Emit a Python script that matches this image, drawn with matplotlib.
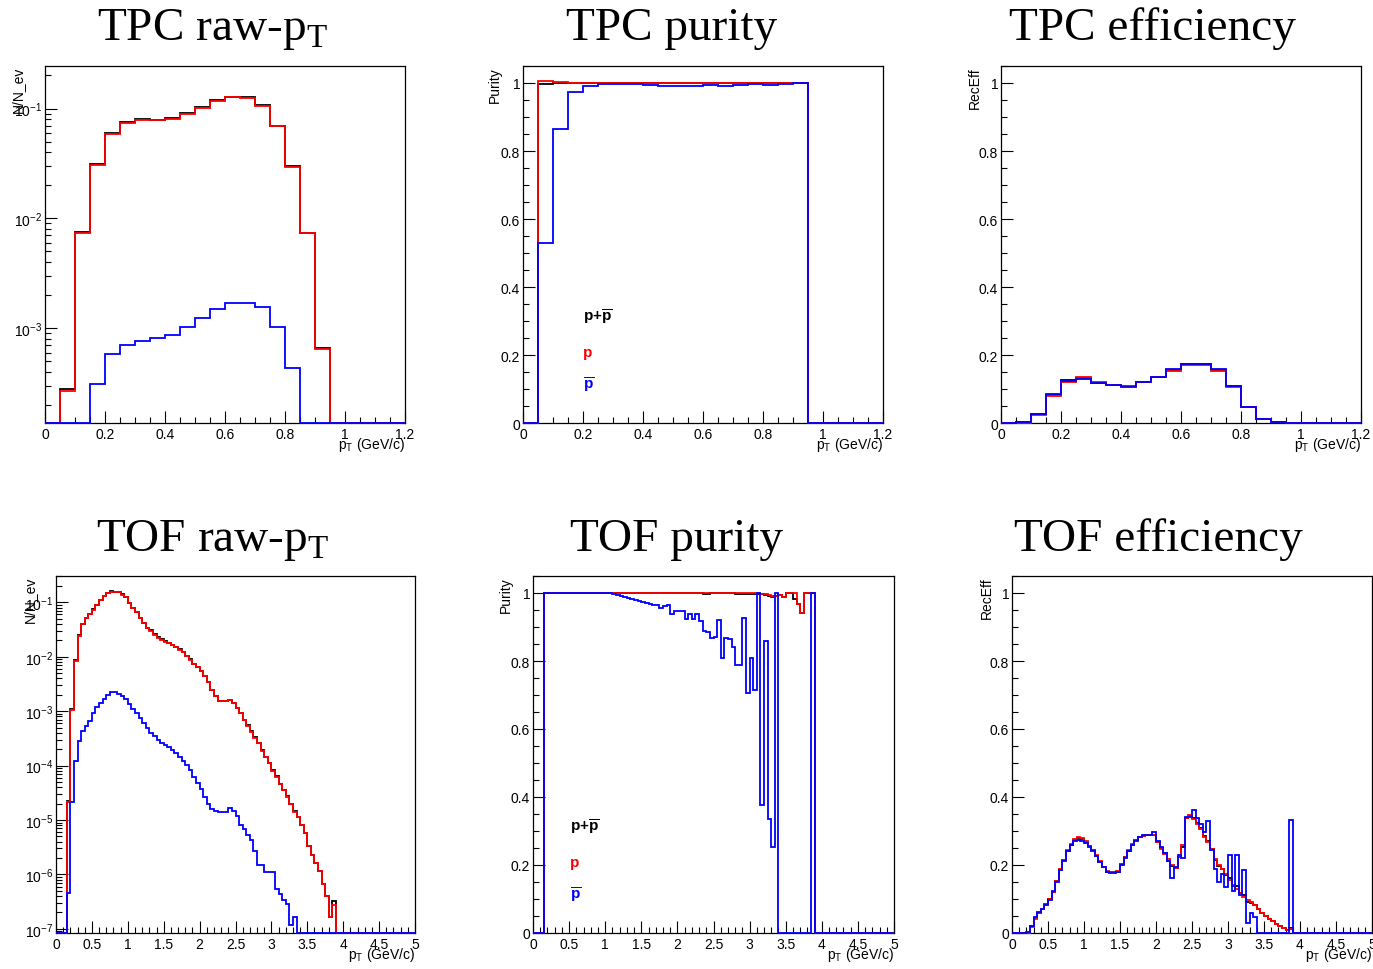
import numpy as np
import matplotlib
matplotlib.use('Agg')
import matplotlib.pyplot as plt
from matplotlib.ticker import MultipleLocator, LogLocator, FuncFormatter, NullFormatter

plt.rcParams['font.family'] = ['Liberation Sans', 'DejaVu Sans']
plt.rcParams['mathtext.fontset'] = 'custom'
plt.rcParams['mathtext.rm'] = 'Liberation Sans'
plt.rcParams['mathtext.bf'] = 'Liberation Sans:bold'
plt.rcParams['mathtext.it'] = 'Liberation Sans:italic'
plt.rcParams['mathtext.sf'] = 'Liberation Serif'

# binning: 0.05 GeV/c bins
tpc_edges = np.linspace(0, 1.2, 25)
tof_edges = np.linspace(0, 5, 101)

# ---- TPC raw pT (N/N_ev) ----
tpc_raw_all = [0, 2.8e-4, 7.45e-3, 0.0311, 0.0593, 0.0752, 0.0796, 0.0793, 0.0819, 0.0904,
               0.1027, 0.119, 0.1285, 0.1267, 0.1073, 0.0700, 0.0298, 7.4e-3, 6.6e-4,
               0, 0, 0, 0, 0]
tpc_raw_p = [0, 2.70e-4, 7.35e-3, 0.0308, 0.0587, 0.0745, 0.0788, 0.0785, 0.0810, 0.0894,
             0.1015, 0.1175, 0.1268, 0.1250, 0.1057, 0.0690, 0.0294, 7.4e-3, 6.49e-4,
             0, 0, 0, 0, 0]
tpc_raw_pbar = [0, 0, 0, 3.1e-4, 5.8e-4, 7.1e-4, 7.66e-4, 8.1e-4, 8.63e-4, 1.035e-3,
                1.24e-3, 1.51e-3, 1.70e-3, 1.70e-3, 1.55e-3, 1.035e-3, 4.35e-4,
                0, 0, 0, 0, 0, 0, 0]

# ---- TPC purity ----
tpc_pur_all = [0, 0.997, 1.0, 1.0, 1.0, 1.0, 1.0, 1.0, 1.0, 1.0, 1.0, 1.0, 1.0, 1.0, 1.0,
               1.0, 1.0, 1.0, 1.0, 0, 0, 0, 0, 0]
tpc_pur_p = [0, 1.005, 1.002, 1.0, 1.0, 1.0, 1.0, 1.0, 1.0, 1.0, 1.0, 1.0, 1.0, 1.0, 1.0,
             1.0, 1.0, 1.0, 1.0, 0, 0, 0, 0, 0]
tpc_pur_pbar = [0, 0.528, 0.864, 0.975, 0.992, 0.997, 0.997, 0.997, 0.995, 0.990, 0.990,
                0.990, 0.993, 0.990, 0.993, 0.996, 0.993, 0.997, 1.0, 0, 0, 0, 0, 0]

# ---- TPC efficiency ----
tpc_eff_all = [0, 0.002, 0.026, 0.082, 0.126, 0.131, 0.119, 0.112, 0.109, 0.120, 0.135,
               0.156, 0.173, 0.173, 0.156, 0.108, 0.048, 0.012, 0.002, 0, 0, 0, 0, 0]
tpc_eff_p = [0, 0.001, 0.024, 0.078, 0.122, 0.135, 0.122, 0.113, 0.110, 0.120, 0.135,
             0.152, 0.171, 0.171, 0.152, 0.105, 0.048, 0.012, 0.002, 0, 0, 0, 0, 0]
tpc_eff_pbar = [0, 0.002, 0.027, 0.084, 0.125, 0.128, 0.117, 0.111, 0.107, 0.120, 0.135,
                0.159, 0.174, 0.174, 0.159, 0.110, 0.048, 0.012, 0.002, 0, 0, 0, 0, 0]

# ---- TOF raw pT (N/N_ev) ----
tof_raw_all = [0, 0, 0, 2.2e-5, 1.08e-3, 8.55e-3, 0.0247, 0.0404, 0.0525, 0.0617,
               0.0742, 0.0905, 0.1105, 0.131, 0.151, 0.158, 0.157, 0.156, 0.141, 0.127,
               0.0986, 0.0798, 0.0673, 0.0522, 0.0423, 0.0342, 0.0305, 0.0258, 0.0226, 0.0209,
               0.0191, 0.0178, 0.0166, 0.0153, 0.0136, 0.0121, 0.0105, 8.9e-3, 7.5e-3, 6.5e-3,
               5.56e-3, 4.37e-3, 3.39e-3, 2.49e-3, 1.87e-3, 1.56e-3, 1.52e-3, 1.52e-3, 1.60e-3, 1.44e-3,
               1.14e-3, 9.25e-4, 6.97e-4, 5.49e-4, 4.26e-4, 3.35e-4, 2.6e-4, 1.9e-4, 1.43e-4, 1.11e-4,
               8.2e-5, 6.33e-5, 4.64e-5, 3.6e-5, 2.72e-5, 1.99e-5, 1.44e-5, 1.12e-5, 8.1e-6, 5.69e-6,
               3.32e-6, 2.27e-6, 1.65e-6, 1.17e-6, 6.8e-7, 3.99e-7, 1.62e-7, 3.27e-7] + [0] * 22
tof_raw_p = [0, 0, 0, 2.17e-5, 1.06e-3, 8.43e-3, 0.0244, 0.0399, 0.0515, 0.061,
             0.0733, 0.0893, 0.109, 0.129, 0.148, 0.155, 0.155, 0.153, 0.138, 0.125,
             0.0972, 0.0787, 0.0664, 0.0515, 0.0417, 0.0337, 0.0301, 0.0254, 0.0221, 0.0206,
             0.0189, 0.0176, 0.0164, 0.0151, 0.01346, 0.01202, 0.01043, 8.8e-3, 7.43e-3, 6.45e-3,
             5.52e-3, 4.34e-3, 3.37e-3, 2.47e-3, 1.86e-3, 1.55e-3, 1.51e-3, 1.51e-3, 1.57e-3, 1.40e-3,
             1.135e-3, 9.18e-4, 6.92e-4, 5.44e-4, 4.22e-4, 3.28e-4, 2.58e-4, 1.89e-4, 1.42e-4, 1.10e-4,
             8.1e-5, 6.28e-5, 4.6e-5, 3.57e-5, 2.69e-5, 1.97e-5, 1.42e-5, 1.12e-5, 8.1e-6, 5.69e-6,
             3.32e-6, 2.27e-6, 1.59e-6, 1.17e-6, 6.8e-7, 3.99e-7, 1.62e-7, 2.8e-7] + [0] * 22
tof_raw_pbar = [0, 0, 0, 4.47e-7, 2.17e-5, 1.22e-4, 2.88e-4, 4.35e-4, 5.44e-4, 6.73e-4,
                9.18e-4, 1.17e-3, 1.44e-3, 1.69e-3, 2.0e-3, 2.21e-3, 2.21e-3, 2.09e-3, 1.91e-3, 1.66e-3,
                1.35e-3, 1.10e-3, 9.2e-4, 7.43e-4, 6.0e-4, 4.86e-4, 4.05e-4, 3.51e-4, 2.96e-4, 2.65e-4,
                2.40e-4, 2.17e-4, 1.94e-4, 1.69e-4, 1.46e-4, 1.22e-4, 1.03e-4, 8.3e-5, 6.28e-5, 4.87e-5,
                3.66e-5, 2.69e-5, 1.94e-5, 1.59e-5, 1.46e-5, 1.42e-5, 1.42e-5, 1.42e-5, 1.69e-5, 1.46e-5,
                1.19e-5, 8.1e-6, 6.73e-6, 5.3e-6, 4.28e-6, 2.73e-6, 1.49e-6, 1.49e-6, 1.09e-6, 1.09e-6,
                1.09e-6, 5.5e-7, 4.34e-7, 3.37e-7, 2.81e-7, 1.2e-7, 1.62e-7] + [0] * 33

# ---- TOF purity ----
tof_pur_all = ([0, 0, 0] + [1.0] * 44 +
               [0.998, 0.998, 1.0, 0.999, 0.999, 0.999, 0.999, 0.999, 0.999, 0.998,
                0.998, 0.997, 0.997, 0.997, 0.997, 0.997, 0.996, 0.994, 0.990, 0.988,
                0.991, 0.993, 0.987, 1.0, 1.0, 0.983, 0.968, 0.940, 1.0, 1.0, 1.0] + [0] * 22)
tof_pur_p = ([0, 0, 0] + [1.0] * 60 +
             [0.997, 0.997, 0.994, 0.990, 0.992, 0.993, 0.988, 1.0, 1.0, 1.0,
              0.968, 0.940, 1.0, 1.0, 1.0] + [0] * 22)
tof_pur_pbar = ([0, 0, 0] + [1.0] * 19 +
                [0.998, 0.995, 0.992, 0.989, 0.985, 0.982, 0.979, 0.976, 0.973, 0.970,
                 0.968, 0.966, 0.966, 0.956, 0.962, 0.964, 0.939, 0.948, 0.948, 0.946,
                 0.924, 0.939, 0.924, 0.939, 0.918, 0.887, 0.884, 0.867, 0.872, 0.921,
                 0.808, 0.869, 0.866, 0.840, 0.787, 0.787, 0.926, 0.705, 0.808, 0.715,
                 1.0, 0.376, 0.860, 0.334, 0.253, 1.0, 0, 0, 0, 0, 0, 0, 0, 0, 0, 1.0] + [0] * 22)

# ---- TOF efficiency ----
tof_eff_all = [0, 0, 0, 0, 0.001, 0.020, 0.044, 0.060, 0.072, 0.084,
               0.099, 0.122, 0.152, 0.186, 0.214, 0.242, 0.260, 0.274, 0.279, 0.277,
               0.268, 0.256, 0.243, 0.227, 0.210, 0.194, 0.180, 0.178, 0.178, 0.180,
               0.202, 0.223, 0.242, 0.260, 0.273, 0.283, 0.286, 0.288, 0.288, 0.289,
               0.269, 0.250, 0.234, 0.212, 0.198, 0.191, 0.224, 0.252, 0.339, 0.345,
               0.337, 0.323, 0.309, 0.284, 0.272, 0.247, 0.214, 0.196, 0.187, 0.170,
               0.163, 0.137, 0.138, 0.117, 0.113, 0.092, 0.088, 0.081, 0.071, 0.060,
               0.050, 0.041, 0.034, 0.027, 0.021, 0.015, 0.010, 0.015] + [0] * 22
tof_eff_p = [0, 0, 0, 0, 0.001, 0.018, 0.041, 0.060, 0.072, 0.085,
             0.100, 0.122, 0.152, 0.187, 0.215, 0.243, 0.262, 0.276, 0.282, 0.280,
             0.270, 0.257, 0.245, 0.228, 0.211, 0.194, 0.181, 0.179, 0.179, 0.181,
             0.204, 0.225, 0.243, 0.262, 0.274, 0.283, 0.286, 0.288, 0.287, 0.287,
             0.267, 0.248, 0.233, 0.218, 0.200, 0.190, 0.223, 0.258, 0.338, 0.346,
             0.334, 0.321, 0.307, 0.282, 0.267, 0.248, 0.218, 0.201, 0.189, 0.174,
             0.157, 0.140, 0.130, 0.118, 0.106, 0.097, 0.090, 0.083, 0.071, 0.060,
             0.050, 0.041, 0.034, 0.027, 0.021, 0.015, 0.010, 0.012] + [0] * 22
tof_eff_pbar = [0, 0, 0, 0, 0.002, 0.022, 0.048, 0.061, 0.071, 0.083,
                0.098, 0.123, 0.151, 0.184, 0.212, 0.240, 0.258, 0.271, 0.274, 0.272,
                0.264, 0.253, 0.241, 0.226, 0.208, 0.193, 0.179, 0.176, 0.177, 0.179,
                0.199, 0.221, 0.240, 0.258, 0.272, 0.282, 0.287, 0.289, 0.289, 0.297,
                0.272, 0.253, 0.236, 0.211, 0.162, 0.194, 0.228, 0.221, 0.341, 0.341,
                0.361, 0.337, 0.322, 0.297, 0.328, 0.243, 0.189, 0.149, 0.174, 0.135,
                0.228, 0.125, 0.230, 0.112, 0.184, 0.029, 0.058, 0.046, 0, 0,
                0, 0, 0, 0, 0, 0, 0, 0.333] + [0] * 22

W, H = 1373, 970
fig = plt.figure(figsize=(W / 100, H / 100), dpi=100)


def box(l, t, r, b):
    # pixel box -> figure fraction
    return [l / W, 1 - b / H, (r - l) / W, (b - t) / H]


fmt = FuncFormatter(lambda v, pos: '%g' % round(v, 6))


def frame(ax, xmax, xmajor, ylim, logy=False):
    ax.set_xlim(0, xmax)
    ax.xaxis.set_major_locator(MultipleLocator(xmajor))
    ax.xaxis.set_minor_locator(MultipleLocator(xmajor / 4 if xmajor < 0.5 else 0.1))
    ax.xaxis.set_major_formatter(fmt)
    if logy:
        ax.set_yscale('log')
        ax.yaxis.set_major_locator(LogLocator(base=10, numticks=20))
        ax.yaxis.set_minor_locator(LogLocator(base=10, subs=np.arange(2, 10), numticks=20))
        ax.yaxis.set_minor_formatter(NullFormatter())
    else:
        ax.yaxis.set_major_locator(MultipleLocator(0.2))
        ax.yaxis.set_minor_locator(MultipleLocator(0.05))
        ax.yaxis.set_major_formatter(fmt)
    ax.set_ylim(*ylim)
    ax.tick_params(which='both', direction='in', top=False, right=False,
                   labelsize=10, width=0.8, color='black')
    ax.tick_params(which='major', length=8.5)
    ax.tick_params(which='minor', length=4.3)
    ax.tick_params(axis='x', pad=3)
    ax.tick_params(axis='y', pad=2)
    for s in ax.spines.values():
        s.set_linewidth(0.9)


def hist(ax, edges, vals, color, floor=None):
    v = np.asarray(vals, dtype=float)
    if floor is not None:
        v = np.maximum(v, floor)
    ax.stairs(v, edges, baseline=None, color=color, lw=1.3, zorder=3, clip_on=False)


def labels(ax, ytitle, ylab_x):
    ax.text(1.0, -0.035, r'$\mathregular{p}_{\mathregular{T}}$ (GeV/c)', transform=ax.transAxes,
            ha='right', va='top', fontsize=10)
    ax.text(ylab_x, 1.0, ytitle, transform=ax.transAxes, rotation=90,
            ha='center', va='top', fontsize=10)


def legend(ax, x):
    ax.text(x, 0.2866, r'p+$\overline{\mathbf{p}}$', transform=ax.transAxes,
            fontsize=11, fontweight='bold', color='black', va='baseline')
    ax.text(x, 0.1885, 'p', transform=ax.transAxes,
            fontsize=11, fontweight='bold', color='red', va='baseline')
    ax.text(x, 0.095, r'$\overline{\mathbf{p}}$', transform=ax.transAxes,
            fontsize=11, color='blue', va='baseline')


panels = [
    (box(45, 67, 405, 424), tpc_edges, 1.2, 0.2, (1.37e-4, 0.244), True,
     (tpc_raw_all, tpc_raw_p, tpc_raw_pbar), 'N/N_ev', -0.075, None),
    (box(523, 67, 883, 424), tpc_edges, 1.2, 0.2, (0, 1.05), False,
     (tpc_pur_all, tpc_pur_p, tpc_pur_pbar), 'Purity', -0.078, 0.167),
    (box(1001, 67, 1361, 424), tpc_edges, 1.2, 0.2, (0, 1.05), False,
     (tpc_eff_all, tpc_eff_p, tpc_eff_pbar), 'RecEff', -0.072, None),
    (box(56, 577, 415, 934), tof_edges, 5, 0.5, (8.4e-8, 0.304), True,
     (tof_raw_all, tof_raw_p, tof_raw_pbar), 'N/N_ev', -0.072, None),
    (box(533, 577, 894, 934), tof_edges, 5, 0.5, (0, 1.05), False,
     (tof_pur_all, tof_pur_p, tof_pur_pbar), 'Purity', -0.076, 0.102),
    (box(1012, 577, 1372, 934), tof_edges, 5, 0.5, (0, 1.05), False,
     (tof_eff_all, tof_eff_p, tof_eff_pbar), 'RecEff', -0.069, None),
]

for rect, edges, xmax, xmajor, ylim, logy, series, ytitle, ylx, legx in panels:
    ax = fig.add_axes(rect)
    frame(ax, xmax, xmajor, ylim, logy)
    floor = ylim[0] if logy else None
    for vals, col in zip(series, ['black', 'red', 'blue']):
        hist(ax, edges, vals, col, floor)
    labels(ax, ytitle, ylx)
    if legx is not None:
        legend(ax, legx)

titles = [
    (212, 40, r'TPC raw-$\mathsf{p}_{\mathsf{T}}$'),
    (672, 40, 'TPC purity'),
    (1152, 40, 'TPC efficiency'),
    (213, 551, r'TOF raw-$\mathsf{p}_{\mathsf{T}}$'),
    (676, 551, 'TOF purity'),
    (1158, 551, 'TOF efficiency'),
]
for x, y, t in titles:
    fig.text(x / W, 1 - y / H, t, family='Liberation Serif', fontsize=34,
             ha='center', va='baseline')

fig.savefig('out.png', dpi=100)
